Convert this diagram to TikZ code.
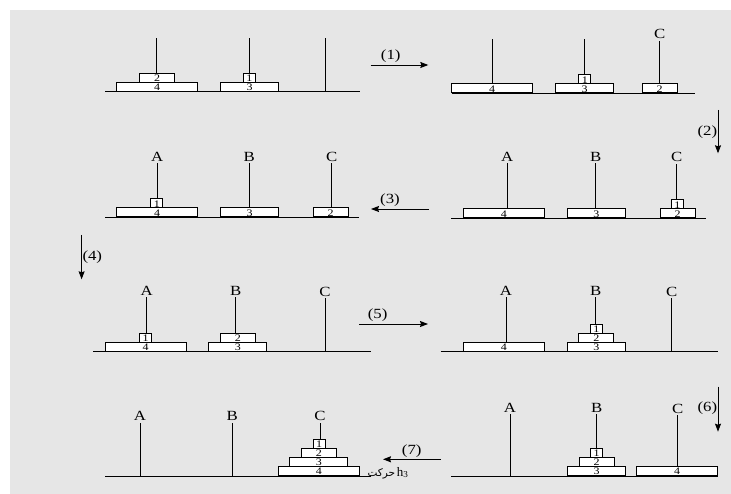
\documentclass[tikz,border=0pt]{standalone}
\usepackage{fontspec}
\setmainfont{Liberation Serif}
\newfontfamily\arabicfont[Script=Arabic]{DejaVu Sans}
\TeXXeTstate=1
\usetikzlibrary{arrows.meta}
\definecolor{bggrey}{HTML}{E6E6E6}
\newcommand{\hstretch}[1]{\scalebox{1.2}[1]{#1}}
\newcommand{\peg}[4]{\coordinate (#1b) at (#2,#4); \coordinate (#1t) at (#2,#3); \draw[pegline] (#1b) -- (#1t);}
\newcommand{\pegtag}[4]{\node[tag] (#1) at (#2,#3-2) {\hstretch{#4}};}
\newcommand{\dk}[5]{\node[disk, minimum width=#4pt] (#1) at (#2,#3) {\hstretch{#5}};}
\newcommand{\baseline}[4]{\coordinate (#1L) at (#2,#4); \coordinate (#1R) at (#3,#4); \draw[pegline] (#1L) -- (#1R);}
\begin{document}
\begin{tikzpicture}[x=1pt,y=-1pt,
  pegline/.style={line width=0.9pt},
  disk/.style={draw, fill=white, line width=0.8pt, inner sep=0pt, minimum height=9pt,
    text height=7.6pt, text depth=0pt, anchor=south, font=\fontsize{10}{10}\selectfont},
  tag/.style={anchor=base, inner sep=0pt, font=\fontsize{14}{14}\selectfont},
  steplab/.style={inner sep=0pt, font=\fontsize{14}{14}\selectfont},
  mv/.style={line width=0.9pt, -{Stealth[length=8pt,width=6pt,inset=1pt]}}]
\useasboundingbox (0,0) rectangle (731,494);
\fill[bggrey] (10,10) rectangle (731,494);
% ---------- Panel 1
\baseline{p1}{105}{360}{91.7}
\peg{p1a}{156.7}{37.7}{91.7}
\peg{p1b}{249.3}{37.7}{91.7}
\peg{p1c}{325}{37.7}{91.7}
\dk{p1d4}{157}{91.7}{81}{4}
\dk{p1d2}{157}{82.7}{35}{2}
\dk{p1d3}{249.5}{91.7}{58}{3}
\dk{p1d1}{249.3}{82.7}{12}{1}
% ---------- Panel 2
\baseline{p2}{451.7}{695}{93.3}
\peg{p2a}{492.3}{39}{93.3}
\peg{p2b}{584.3}{39}{93.3}
\peg{p2c}{659.7}{40.7}{93.3}
\pegtag{p2lc}{659.7}{40.7}{C}
\dk{p2d4}{492.2}{93.3}{81}{4}
\dk{p2d3}{584.7}{93.3}{58}{3}
\dk{p2d1}{584.8}{84.3}{12}{1}
\dk{p2d2}{659.7}{93.3}{35}{2}
% ---------- Panel 3
\baseline{p3}{105}{359}{217.3}
\peg{p3a}{157.3}{163.3}{217.3}
\peg{p3b}{249.3}{163.3}{217.3}
\peg{p3c}{331.7}{163.3}{217.3}
\pegtag{p3la}{157.3}{163.3}{A}
\pegtag{p3lb}{249.3}{163.3}{B}
\pegtag{p3lc}{331.7}{163.3}{C}
\dk{p3d4}{157}{217.3}{81}{4}
\dk{p3d1}{156.8}{208.3}{12}{1}
\dk{p3d3}{249.5}{217.3}{58}{3}
\dk{p3d2}{330.5}{217.3}{35}{2}
% ---------- Panel 4
\baseline{p4}{451}{706}{218.3}
\peg{p4a}{507.3}{163.3}{218.3}
\peg{p4b}{595.7}{163.3}{218.3}
\peg{p4c}{676.7}{164}{218.3}
\pegtag{p4la}{507.3}{163.3}{A}
\pegtag{p4lb}{595.7}{163.3}{B}
\pegtag{p4lc}{676.7}{164}{C}
\dk{p4d4}{503.8}{218.3}{81}{4}
\dk{p4d3}{596.3}{218.3}{58}{3}
\dk{p4d2}{677.5}{218.3}{35}{2}
\dk{p4d1}{677.3}{209.3}{12}{1}
% ---------- Panel 5
\baseline{p5}{93}{370.6}{351.7}
\peg{p5a}{146.7}{297.3}{351.7}
\peg{p5b}{235.7}{297.3}{351.7}
\peg{p5c}{325}{298.3}{351.7}
\pegtag{p5la}{146.7}{297.3}{A}
\pegtag{p5lb}{235.7}{297.3}{B}
\pegtag{p5lc}{325}{298.3}{C}
\dk{p5d4}{145.5}{351.7}{81}{4}
\dk{p5d1}{145.5}{342.7}{12}{1}
\dk{p5d3}{237.8}{351.7}{58}{3}
\dk{p5d2}{237.8}{342.7}{35}{2}
% ---------- Panel 6
\baseline{p6}{440.6}{718}{351.7}
\peg{p6a}{506}{297.3}{351.7}
\peg{p6b}{595.7}{297.3}{351.7}
\peg{p6c}{671.7}{298.3}{351.7}
\pegtag{p6la}{506}{297.3}{A}
\pegtag{p6lb}{595.7}{297.3}{B}
\pegtag{p6lc}{671.7}{298.3}{C}
\dk{p6d4}{503.8}{351.7}{81}{4}
\dk{p6d3}{596.3}{351.7}{58}{3}
\dk{p6d2}{596.3}{342.7}{35}{2}
\dk{p6d1}{596.3}{333.7}{12}{1}
% ---------- Panel 7
\baseline{p7}{105}{370.6}{476}
\peg{p7a}{140}{422.7}{476}
\peg{p7b}{232.3}{422.7}{476}
\peg{p7c}{320}{422.7}{476}
\pegtag{p7la}{140}{422.7}{A}
\pegtag{p7lb}{232.3}{422.7}{B}
\pegtag{p7lc}{320}{422.7}{C}
\dk{p7d4}{318.8}{476}{81}{4}
\dk{p7d3}{318.8}{467}{58}{3}
\dk{p7d2}{318.8}{458}{35}{2}
\dk{p7d1}{319}{449}{12}{1}
% ---------- Panel 8
\baseline{p8}{451}{718}{476}
\peg{p8a}{510}{414}{476}
\peg{p8b}{596.7}{414}{476}
\peg{p8c}{677.7}{415}{476}
\pegtag{p8la}{510}{414}{A}
\pegtag{p8lb}{596.7}{414}{B}
\pegtag{p8lc}{677.7}{415}{C}
\dk{p8d3}{596.5}{476}{58}{3}
\dk{p8d2}{596.5}{467}{35}{2}
\dk{p8d1}{596.5}{458}{12}{1}
\dk{p8d4}{677.2}{476}{81}{4}
% ---------- Moves
\coordinate (m1s) at (370.6,65); \coordinate (m1e) at (428.3,65);
\draw[mv] (m1s) -- (m1e);
\node[steplab] (m1l) at (390.7,56.5) {\hstretch{(1)}};
\coordinate (m2s) at (718,110); \coordinate (m2e) at (718,153.3);
\draw[mv] (m2s) -- (m2e);
\node[steplab, anchor=east] (m2l) at (717.3,132.3) {\hstretch{(2)}};
\coordinate (m3s) at (429,209); \coordinate (m3e) at (371,209);
\draw[mv] (m3s) -- (m3e);
\node[steplab] (m3l) at (390,200.5) {\hstretch{(3)}};
\coordinate (m4s) at (81.6,235); \coordinate (m4e) at (81.6,279.3);
\draw[mv] (m4s) -- (m4e);
\node[steplab, anchor=west] (m4l) at (82.3,256.7) {\hstretch{(4)}};
\coordinate (m5s) at (359,324); \coordinate (m5e) at (428,324);
\draw[mv] (m5s) -- (m5e);
\node[steplab] (m5l) at (377.6,315.5) {\hstretch{(5)}};
\coordinate (m6s) at (718,386.7); \coordinate (m6e) at (718,431.7);
\draw[mv] (m6s) -- (m6e);
\node[steplab, anchor=east] (m6l) at (717.3,408.3) {\hstretch{(6)}};
\coordinate (m7s) at (440.6,459.3); \coordinate (m7e) at (383,459.3);
\draw[mv] (m7s) -- (m7e);
\node[steplab] (m7l) at (411.7,451.5) {\hstretch{(7)}};
\node[inner sep=0pt, anchor=base] (m7t) at (388,476) {{\arabicfont\fontsize{10.5}{10.5}\selectfont\beginR حركت\endR}\,{\fontsize{13}{13}\selectfont h\textsubscript{3}}};
\end{tikzpicture}
\end{document}
